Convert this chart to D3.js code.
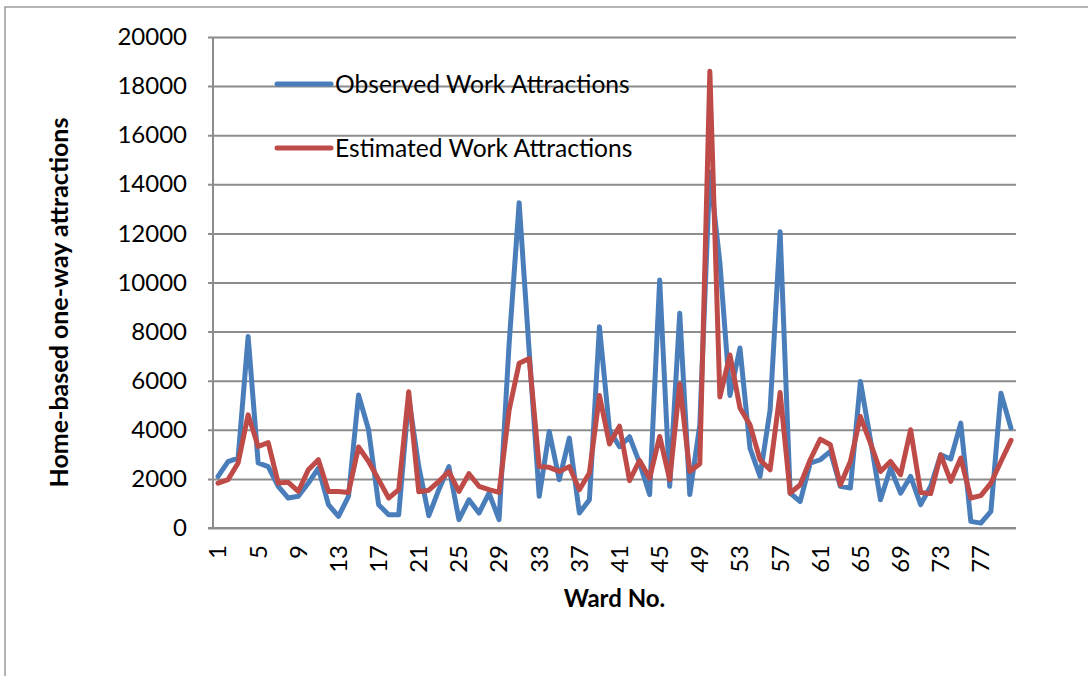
<!DOCTYPE html>
<html>

<head>
    <meta charset="utf-8">
    <title>Work attractions by ward</title>
    <style>
        body { margin: 0; background: #fff; }
        text { font-family: Lato, "Open Sans", sans-serif; }
    </style>
</head>

<body>
    <script src="https://d3js.org/d3.v7.min.js"></script>
    <script>
    // ward numbers 1..80
    var wards = d3.range(1, 81);
    var yTicks = [0, 2000, 4000, 6000, 8000, 10000, 12000, 14000, 16000, 18000, 20000];
    var seriesNames = ["Observed Work Attractions", "Estimated Work Attractions"];

    var observed = [2100, 2700, 2850, 7800, 2650, 2500, 1700, 1220, 1290, 1830,
        2440, 950, 470, 1290, 5420, 4000, 950, 540, 540, 5300,
        2500, 500, 1560, 2500, 340, 1150, 610, 1420, 340, 7500,
        13250, 7200, 1290, 3930, 1970, 3660, 610, 1150, 8200, 3990,
        3310, 3720, 2640, 1360, 10100, 1700, 8750, 1360, 4200, 14500,
        10800, 5400, 7330, 3250, 2100, 4800, 12070, 1420, 1080, 2640,
        2780, 3120, 1700, 1630, 5970, 3590, 1150, 2440, 1420, 2100,
        950, 1700, 2980, 2810, 4270, 270, 200, 680, 5490, 4070];

    var estimated = [1830, 1970, 2650, 4610, 3320, 3480, 1830, 1860, 1490, 2370,
        2780, 1490, 1490, 1450, 3300, 2710, 1970, 1220, 1560, 5550,
        1480, 1540, 1900, 2300, 1490, 2210, 1700, 1560, 1450, 4800,
        6710, 6900, 2500, 2470, 2300, 2500, 1560, 2240, 5400, 3420,
        4150, 1930, 2750, 2030, 3730, 1970, 5870, 2300, 2620, 18600,
        5340, 7050, 4890, 4200, 2780, 2370, 5520, 1420, 1760, 2780,
        3620, 3390, 1760, 2710, 4540, 3460, 2300, 2710, 2170, 4000,
        1450, 1400, 2980, 1900, 2850, 1220, 1320, 1830, 2710, 3570];

    var colors = ["#4a7ebb", "#be4b48"];

    var width = 1088, height = 676;
    var plotLeft = 213, plotRight = 1016, plotTop = 37, plotBottom = 528;

    var svg = d3.select("body").append("svg")
        .attr("width", width)
        .attr("height", height);

    // outer chart border
    svg.append("rect")
        .attr("x", 5).attr("y", 7)
        .attr("width", 1100).attr("height", 700)
        .attr("fill", "#fff")
        .attr("stroke", "#8c8c8c")
        .attr("stroke-width", 1.3);

    var x = d3.scaleBand().domain(wards).range([plotLeft, plotRight]);
    var y = d3.scaleLinear().domain([0, 20000]).range([plotBottom, plotTop]);

    // gridlines + y axis
    var yAxis = d3.axisLeft(y).tickValues(yTicks).tickSize(5).tickPadding(21)
        .tickFormat(d3.format("d"));
    var gy = svg.append("g").attr("transform", "translate(" + plotLeft + ",0)").call(yAxis);
    gy.select(".domain").attr("stroke", "#8c8c8c").attr("stroke-width", 2)
        .attr("d", "M0," + plotTop + "V" + plotBottom);
    gy.selectAll(".tick line").attr("stroke", "#8c8c8c").attr("stroke-width", 2)
        .attr("x2", plotRight - plotLeft).attr("x1", -5);
    gy.selectAll(".tick text")
        .style("font-size", "24px").attr("fill", "#000");

    // x axis (no tick marks, labels every 4 wards)
    var xAxis = d3.axisBottom(x).tickValues(wards.filter(function(d) { return (d - 1) % 4 == 0; }))
        .tickSize(0);
    var gx = svg.append("g").attr("transform", "translate(0," + plotBottom + ")").call(xAxis);
    gx.select(".domain").attr("stroke", "#8c8c8c").attr("stroke-width", 2)
        .attr("d", "M" + (plotLeft - 5) + ",0H" + plotRight);
    gx.selectAll(".tick text")
        .style("font-size", "24px").attr("fill", "#000")
        .attr("transform", "rotate(-90)")
        .attr("text-anchor", "end")
        .attr("x", -17).attr("y", 0).attr("dy", "0.35em");

    var line = d3.line()
        .x(function(d, i) { return x(wards[i]) + x.bandwidth() / 2; })
        .y(function(d) { return y(d); });

    [observed, estimated].forEach(function(s, k) {
        svg.append("path")
            .datum(s)
            .attr("d", line)
            .attr("fill", "none")
            .attr("stroke", colors[k])
            .attr("stroke-width", 5)
            .attr("stroke-linejoin", "round")
            .attr("stroke-linecap", "round");
    });

    // legend
    var legend = svg.selectAll(".legend")
        .data(seriesNames)
        .enter().append("g")
        .attr("transform", function(d, i) { return "translate(277," + (84 + i * 64) + ")"; });
    legend.append("line")
        .attr("x1", 0).attr("x2", 54)
        .attr("stroke", function(d, i) { return colors[i]; })
        .attr("stroke-width", 5)
        .attr("stroke-linecap", "round");
    legend.append("text")
        .attr("x", 58).attr("dy", "0.35em")
        .style("font-size", "24.6px")
        .text(function(d) { return d; });

    // axis titles
    svg.append("text")
        .attr("x", (plotLeft + plotRight) / 2).attr("y", 607)
        .attr("text-anchor", "middle")
        .style("font-size", "24px").style("font-weight", "bold")
        .text("Ward No.");

    svg.append("text")
        .attr("transform", "translate(68," + ((plotTop + plotBottom) / 2 + 20) + ") rotate(-90)")
        .attr("text-anchor", "middle")
        .style("font-size", "25px").style("font-weight", "bold")
        .text("Home-based one-way attractions");
    </script>
</body>

</html>
